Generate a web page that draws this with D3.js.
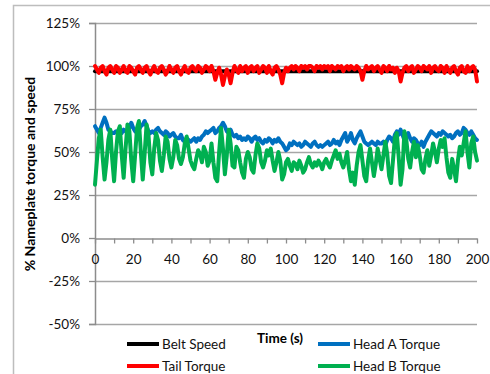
<!DOCTYPE html>
<html>
<head>
<meta charset="utf-8">
<script src="https://cdn.jsdelivr.net/npm/d3@7"></script>
<style>
  html, body { margin: 0; padding: 0; background: #fff; }
  svg { display: block; font-family: "Lato", "Liberation Sans", sans-serif; }
</style>
</head>
<body>
<svg id="chart" width="490" height="374"></svg>
<script>
// Conveyor drive test: belt speed and drive torques, % of nameplate, sampled each second
const timeSec = d3.range(0, 201);

const beltTime = [0, 20, 40, 60, 80, 100, 120, 140, 160, 180, 200];
const beltSpeed = [97, 97, 97, 97, 97, 97, 97, 97, 97, 97, 97];

const tailTorque = [
  100, 98, 96, 99, 100, 97, 95, 99, 100, 98, 96, 100, 99, 96, 98, 100, 97, 96, 100, 99,
  97, 95, 99, 100, 98, 96, 99, 100, 97, 95, 98, 100, 97, 96, 99, 100, 98, 95, 97, 100,
  98, 96, 99, 100, 97, 95, 98, 100, 97, 96, 99, 100, 98, 97, 100, 99, 96, 98, 100, 99,
  97, 100, 97, 92, 96, 99, 95, 89, 94, 98, 95, 90, 96, 100, 98, 96, 100, 97, 99, 100,
  96, 99, 100, 97, 99, 100, 96, 98, 100, 99, 96, 100, 97, 95, 99, 100, 98, 95, 90, 96,
  99, 97, 99, 100, 98, 100, 99, 97, 100, 99, 100, 98, 100, 100, 99, 97, 100, 99, 100, 98,
  100, 99, 100, 97, 100, 99, 98, 100, 99, 100, 97, 99, 100, 98, 100, 99, 98, 100, 99, 97,
  92, 97, 100, 98, 99, 100, 97, 99, 100, 98, 96, 100, 99, 97, 100, 98, 99, 96, 99, 97,
  91, 96, 99, 100, 97, 99, 100, 96, 98, 100, 99, 97, 100, 99, 98, 100, 96, 99, 100, 98,
  97, 100, 99, 96, 100, 98, 96, 99, 100, 97, 95, 99, 100, 97, 96, 100, 97, 99, 100, 98,
  91
];

const headATorque = [
  65, 63, 61, 64, 67, 70, 67, 63, 62, 61, 61, 62, 61, 62, 61, 63, 62, 61, 64, 67,
  64, 62, 61, 63, 65, 66, 68, 65, 62, 61, 62, 61, 63, 64, 62, 61, 60, 62, 61, 59,
  60, 61, 59, 58, 58, 60, 57, 56, 58, 57, 56, 57, 58, 56, 58, 57, 59, 60, 62, 61,
  62, 63, 64, 61, 62, 64, 65, 67, 65, 62, 61, 63, 60, 59, 60, 58, 59, 57, 58, 57,
  59, 58, 56, 58, 59, 57, 58, 56, 55, 57, 56, 58, 57, 55, 57, 56, 58, 56, 55, 53,
  51, 52, 55, 54, 56, 55, 54, 55, 53, 54, 56, 55, 54, 53, 55, 56, 54, 53, 54, 53,
  54, 55, 56, 54, 55, 57, 55, 56, 54, 57, 59, 61, 56, 58, 61, 57, 55, 58, 60, 62,
  59, 56, 55, 54, 55, 56, 55, 54, 56, 55, 55, 56, 54, 57, 59, 58, 56, 60, 62, 60,
  63, 60, 57, 59, 61, 58, 56, 58, 57, 55, 54, 56, 53, 56, 58, 60, 62, 61, 60, 59,
  61, 60, 62, 61, 60, 59, 60, 58, 59, 61, 62, 60, 61, 64, 63, 61, 60, 62, 60, 58,
  57
];

const headBTorque = [
  31, 45, 58, 63, 47, 34, 44, 57, 63, 46, 33, 50, 62, 65, 48, 35, 52, 66, 62, 45,
  33, 48, 64, 68, 50, 34, 49, 66, 60, 44, 37, 52, 61, 57, 45, 39, 48, 59, 56, 46,
  41, 47, 57, 54, 46, 43, 47, 55, 59, 52, 45, 42, 40, 46, 51, 49, 44, 53, 50, 42,
  45, 55, 44, 35, 33, 50, 64, 52, 37, 48, 63, 55, 42, 41, 53, 51, 44, 38, 35, 46,
  50, 47, 40, 38, 48, 55, 52, 44, 41, 45, 51, 48, 52, 45, 39, 44, 50, 45, 34, 37,
  44, 46, 42, 39, 44, 43, 40, 45, 42, 38, 40, 44, 47, 43, 41, 44, 42, 45, 43, 40,
  44, 46, 43, 41, 45, 48, 51, 46, 49, 44, 41, 45, 50, 40, 33, 38, 31, 42, 50, 54,
  45, 36, 33, 45, 52, 44, 36, 43, 52, 46, 40, 48, 56, 49, 36, 32, 45, 58, 61, 47,
  31, 40, 62, 57, 46, 41, 50, 56, 47, 54, 48, 40, 38, 46, 51, 42, 48, 55, 50, 44,
  52, 57, 53, 58, 47, 38, 35, 46, 40, 33, 45, 53, 48, 55, 62, 50, 41, 55, 59, 50,
  45
];

const yTickValues = [-50, -25, 0, 25, 50, 75, 100, 125];
const xTickValues = d3.range(0, 201, 10);
const xLabelValues = [0, 20, 40, 60, 80, 100, 120, 140, 160, 180, 200];

const legendItems = [
  { name: "Belt Speed", color: "#000000" },
  { name: "Tail Torque", color: "#ff0000" },
  { name: "Head A Torque", color: "#0070c0" },
  { name: "Head B Torque", color: "#00b050" }
];

const svg = d3.select("#chart");

// outer chart frame
svg.append("rect")
  .attr("x", 13.5).attr("y", 5.5)
  .attr("width", 600).attr("height", 600)
  .attr("fill", "none").attr("stroke", "#bdbdbd").attr("stroke-width", 1.5);

const x = d3.scaleLinear().domain([0, 200]).range([95, 477]);
const y = d3.scaleLinear().domain([-50, 125]).range([324, 23]);

const gridColor = "#a6a6a6";
const axisColor = "#8c8c8c";
const labelColor = "#111";

// horizontal gridlines
svg.append("g")
  .selectAll("line")
  .data(yTickValues.filter(v => v !== 0))
  .join("line")
  .attr("x1", x(0)).attr("x2", x(200))
  .attr("y1", d => Math.round(y(d)) + 0.5).attr("y2", d => Math.round(y(d)) + 0.5)
  .attr("stroke", gridColor).attr("stroke-width", 1.3);

// y axis
const yAxis = svg.append("g")
  .attr("transform", `translate(${x(0)},0)`)
  .call(d3.axisLeft(y).tickValues(yTickValues).tickSize(6).tickPadding(9)
    .tickFormat(d => d + "%"));
yAxis.select(".domain").attr("stroke", axisColor).attr("stroke-width", 1.5);
yAxis.selectAll(".tick line").attr("stroke", axisColor).attr("stroke-width", 1.3);
yAxis.selectAll(".tick text")
  .attr("font-size", 13.5).attr("fill", labelColor)
  .style("font-family", "Lato, sans-serif");

// x axis along the 0% line
const xAxis = svg.append("g")
  .attr("transform", `translate(0,${Math.round(y(0)) + 0.5})`)
  .call(d3.axisBottom(x).tickValues(xTickValues).tickSize(5).tickPadding(11)
    .tickSizeOuter(0)
    .tickFormat(d => xLabelValues.includes(d) ? String(d) : ""));
xAxis.select(".domain").attr("stroke", axisColor).attr("stroke-width", 1.5);
xAxis.selectAll(".tick line").attr("stroke", axisColor).attr("stroke-width", 1.3);
xAxis.selectAll(".tick text")
  .attr("font-size", 13.5).attr("fill", labelColor)
  .style("font-family", "Lato, sans-serif");

// series lines
const line = d3.line().x(d => x(d[0])).y(d => y(d[1]));
const seriesData = [
  { pts: beltTime.map((t, i) => [t, beltSpeed[i]]), color: "#000000" },
  { pts: timeSec.map((t, i) => [t, tailTorque[i]]), color: "#ff0000" },
  { pts: timeSec.map((t, i) => [t, headATorque[i]]), color: "#0070c0" },
  { pts: timeSec.map((t, i) => [t, headBTorque[i]]), color: "#00b050" }
];
svg.append("g")
  .selectAll("path")
  .data(seriesData)
  .join("path")
  .attr("d", d => line(d.pts))
  .attr("fill", "none")
  .attr("stroke", d => d.color)
  .attr("stroke-width", 4)
  .attr("stroke-linejoin", "round")
  .attr("stroke-linecap", "round");

// y axis title
svg.append("text")
  .attr("transform", `translate(35,174) rotate(-90)`)
  .attr("text-anchor", "middle")
  .attr("font-size", 14).attr("font-weight", "bold").attr("fill", "#000")
  .text("% Nameplate torque and speed");

// x axis title
svg.append("text")
  .attr("x", 280).attr("y", 343)
  .attr("text-anchor", "middle")
  .attr("font-size", 13.5).attr("font-weight", "bold").attr("fill", "#000")
  .text("Time (s)");

// legend: two columns either side of the axis title
const legendPos = [
  { lx: 127, ly: 344 },
  { lx: 127, ly: 366 },
  { lx: 318, ly: 344 },
  { lx: 318, ly: 366 }
];
const legend = svg.append("g")
  .selectAll("g")
  .data(legendItems)
  .join("g")
  .attr("transform", (d, i) => `translate(${legendPos[i].lx},${legendPos[i].ly})`);
legend.append("line")
  .attr("x1", 0).attr("x2", 32).attr("y1", 0).attr("y2", 0)
  .attr("stroke", d => d.color).attr("stroke-width", 4);
legend.append("text")
  .attr("x", 35).attr("y", 0).attr("dy", "0.36em")
  .attr("font-size", 13.5).attr("fill", labelColor)
  .text(d => d.name);
</script>
</body>
</html>
